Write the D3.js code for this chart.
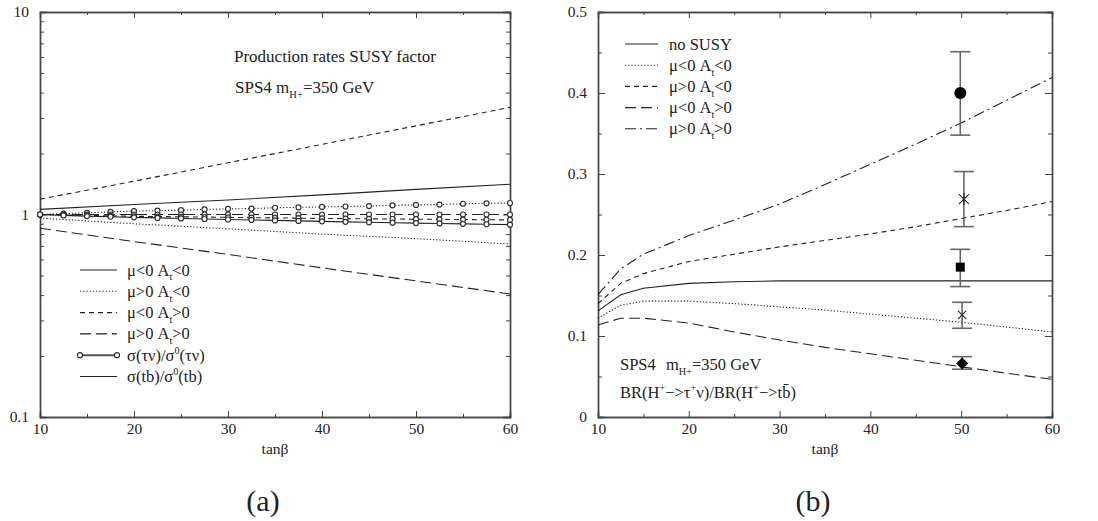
<!DOCTYPE html>
<html>
<head>
<meta charset="UTF-8">
<script src="https://d3js.org/d3.v7.min.js"></script>
<style>
  body { margin: 0; background: #fff; }
  .axis path, .axis line { stroke: #444; }
</style>
</head>
<body>
<svg width="1098" height="521"></svg>
<script>
// ---- panel (a): production rate SUSY factors ----
const tanbA = [10, 20, 30, 40, 50, 60];
const tbMuNegAtNeg = [1.06, 1.12, 1.18, 1.25, 1.33, 1.41];     // solid
const tbMuPosAtNeg = [0.96, 0.90, 0.85, 0.80, 0.76, 0.715];    // dotted
const tbMuNegAtPos = [1.19, 1.46, 1.80, 2.22, 2.74, 3.38];     // short dash
const tbMuPosAtPos = [0.855, 0.735, 0.635, 0.545, 0.47, 0.405]; // long dash

const tanbTau = [10, 12.5, 15, 17.5, 20, 22.5, 25, 27.5, 30, 32.5, 35, 37.5, 40, 42.5, 45, 47.5, 50, 52.5, 55, 57.5, 60];
const tauSolid  = [1.0, 0.99, 0.982, 0.975, 0.968, 0.962, 0.956, 0.95, 0.945, 0.94, 0.935, 0.93, 0.925, 0.92, 0.915, 0.911, 0.907, 0.903, 0.899, 0.895, 0.891];
const tauDotted = [1.0, 1.01, 1.02, 1.03, 1.04, 1.045, 1.05, 1.06, 1.065, 1.07, 1.08, 1.085, 1.09, 1.095, 1.10, 1.11, 1.115, 1.12, 1.13, 1.135, 1.14];
const tauShort  = [1.0, 0.995, 0.99, 0.985, 0.98, 0.977, 0.974, 0.971, 0.968, 0.965, 0.962, 0.959, 0.956, 0.954, 0.952, 0.95, 0.948, 0.946, 0.944, 0.942, 0.94];
const tauLong   = [1.0, 1.0, 1.0, 1.0, 1.0, 1.0, 1.0, 1.0, 1.0, 1.0, 1.0, 1.0, 1.0, 1.0, 1.0, 1.0, 1.0, 1.0, 1.0, 1.0, 1.0];

// ---- panel (b): BR ratio ----
const tanbB = [10, 12.5, 15, 20, 25, 30, 35, 40, 45, 50, 55, 60];
const brNoSusy      = [0.131, 0.151, 0.159, 0.165, 0.167, 0.168, 0.168, 0.168, 0.168, 0.168, 0.168, 0.168];
const brMuNegAtNeg  = [0.122, 0.138, 0.143, 0.143, 0.140, 0.136, 0.132, 0.127, 0.122, 0.117, 0.111, 0.105];
const brMuPosAtNeg  = [0.140, 0.165, 0.177, 0.192, 0.201, 0.210, 0.218, 0.226, 0.235, 0.245, 0.255, 0.266];
const brMuNegAtPos  = [0.1136, 0.122, 0.122, 0.116, 0.105, 0.095, 0.086, 0.078, 0.070, 0.062, 0.054, 0.0465];
const brMuPosAtPos  = [0.151, 0.183, 0.201, 0.224, 0.243, 0.263, 0.287, 0.312, 0.337, 0.363, 0.391, 0.419];

// measured points at tanb = 50
const ptX     = [49.9, 50.3, 49.9, 50.1, 50.1];
const ptY     = [0.400, 0.269, 0.185, 0.126, 0.066];
const ptLow   = [0.348, 0.235, 0.161, 0.1095, 0.059];
const ptHigh  = [0.451, 0.303, 0.207, 0.1416, 0.0745];
const ptShape = ["circle", "asterisk", "square", "cross", "diamond"];

const dashes = { solid: null, dotted: "1.2,2", short: "5,4", long: "11,5", dashdot: "11,4,2,4" };
const SERIF = "'Liberation Serif', 'Times New Roman', serif";

const svg = d3.select("svg");

function rich(g, x, y, parts, size) {
  const t = g.append("text").attr("x", x).attr("y", y)
    .attr("font-family", SERIF).attr("font-size", size).attr("fill", "#222");
  let shift = 0;
  parts.forEach(p => {
    const txt = typeof p === "string" ? p : p[0];
    const kind = typeof p === "string" ? "" : p[1];
    const want = kind === "sub" ? size * 0.3 : kind === "sup" ? -size * 0.4 : 0;
    t.append("tspan").attr("dy", want - shift)
      .attr("font-size", kind ? size * 0.62 : size).text(txt);
    shift = want;
  });
  return t;
}

function frame(g, x, y, W, H, xMaj, xMin, yMaj, yMin, yFmt) {
  const ax = (sel) => sel.attr("class", "axis");
  g.append("g").call(ax).attr("transform", `translate(0,${H})`)
    .call(d3.axisBottom(x).tickValues(xMaj).tickSize(-6).tickPadding(6).tickFormat(d3.format("d")));
  g.append("g").call(ax).attr("transform", `translate(0,${H})`)
    .call(d3.axisBottom(x).tickValues(xMin).tickSize(-3).tickFormat(""));
  g.append("g").call(ax)
    .call(d3.axisTop(x).tickValues(xMaj).tickSize(-6).tickFormat(""));
  g.append("g").call(ax)
    .call(d3.axisTop(x).tickValues(xMin).tickSize(-3).tickFormat(""));
  g.append("g").call(ax)
    .call(d3.axisLeft(y).tickValues(yMaj).tickSize(-7).tickPadding(11).tickFormat(yFmt));
  g.append("g").call(ax)
    .call(d3.axisLeft(y).tickValues(yMin).tickSize(-4).tickFormat(""));
  g.append("g").call(ax).attr("transform", `translate(${W},0)`)
    .call(d3.axisRight(y).tickValues(yMaj).tickSize(-7).tickFormat(""));
  g.append("g").call(ax).attr("transform", `translate(${W},0)`)
    .call(d3.axisRight(y).tickValues(yMin).tickSize(-4).tickFormat(""));
  g.selectAll(".axis path.domain").attr("stroke-width", 1.4);
  g.selectAll(".axis text").attr("font-family", SERIF).attr("font-size", 15.5).attr("fill", "#222");
  g.append("text").attr("x", W / 2).attr("y", H + 37).attr("text-anchor", "middle")
    .attr("font-family", SERIF).attr("font-size", 15.5).attr("fill", "#222").text("tanβ");
}

function curve(g, x, y, xs, ys, style) {
  g.append("path")
    .datum(xs.map((d, i) => [d, ys[i]]))
    .attr("fill", "none").attr("stroke", "#222").attr("stroke-width", 1.1)
    .attr("stroke-dasharray", dashes[style])
    .attr("d", d3.line().x(d => x(d[0])).y(d => y(d[1])));
}

// ================= panel (a) =================
const aL = 40, aR = 510, plotTop = 12, plotBot = 417;
const gA = svg.append("g").attr("transform", `translate(${aL},${plotTop})`);
const WA = aR - aL, H = plotBot - plotTop;
const xA = d3.scaleLinear().domain([10, 60]).range([0, WA]);
const yA = d3.scaleLog().domain([0.1, 10]).range([H, 0]);
const logMinor = [0.2, 0.3, 0.4, 0.5, 0.6, 0.7, 0.8, 0.9, 2, 3, 4, 5, 6, 7, 8, 9];
frame(gA, xA, yA, WA, H, [10, 20, 30, 40, 50, 60], [15, 25, 35, 45, 55],
  [0.1, 1, 10], logMinor, d => (d === 0.1 ? "0.1" : d3.format("d")(d)));

curve(gA, xA, yA, tanbA, tbMuNegAtNeg, "solid");
curve(gA, xA, yA, tanbA, tbMuPosAtNeg, "dotted");
curve(gA, xA, yA, tanbA, tbMuNegAtPos, "short");
curve(gA, xA, yA, tanbA, tbMuPosAtPos, "long");

[[tauDotted, "dotted"], [tauLong, "long"], [tauShort, "short"], [tauSolid, "solid"]].forEach(([vals, st]) => {
  curve(gA, xA, yA, tanbTau, vals, st);
  gA.append("g").selectAll("circle").data(tanbTau.map((d, i) => [d, vals[i]])).enter()
    .append("circle").attr("cx", d => xA(d[0])).attr("cy", d => yA(d[1])).attr("r", 2.5)
    .attr("fill", "#fff").attr("stroke", "#333").attr("stroke-width", 1.2);
});

rich(gA, 194, 50, ["Production rates SUSY factor"], 17);
rich(gA, 195, 81, ["SPS4 m", ["H+", "sub"], "=350 GeV"], 17);

const legA = [
  { st: "solid", parts: ["μ<0 A", ["t", "sub"], "<0"] },
  { st: "dotted", parts: ["μ>0 A", ["t", "sub"], "<0"] },
  { st: "short", parts: ["μ<0 A", ["t", "sub"], ">0"] },
  { st: "long", parts: ["μ>0 A", ["t", "sub"], ">0"] },
  { st: "tau", parts: ["σ(τν)/σ", ["0", "sup"], "(τν)"] },
  { st: "solid", parts: ["σ(tb)/σ", ["0", "sup"], "(tb)"] }
];
legA.forEach((d, i) => {
  const yy = 258 + i * 21.3;
  if (d.st === "tau") {
    gA.append("line").attr("x1", 40).attr("x2", 77).attr("y1", yy).attr("y2", yy)
      .attr("stroke", "#555").attr("stroke-width", 2);
    [40, 77].forEach(cx => gA.append("circle").attr("cx", cx).attr("cy", yy).attr("r", 2.5)
      .attr("fill", "#fff").attr("stroke", "#333").attr("stroke-width", 1.2));
  } else {
    gA.append("line").attr("x1", 40).attr("x2", 77).attr("y1", yy).attr("y2", yy)
      .attr("stroke", "#222").attr("stroke-width", 1.1).attr("stroke-dasharray", dashes[d.st]);
  }
  rich(gA, 87, yy + 5.5, d.parts, 16.5);
});

// ================= panel (b) =================
const bL = 598, bR = 1052;
const gB = svg.append("g").attr("transform", `translate(${bL},${plotTop})`);
const WB = bR - bL;
const xB = d3.scaleLinear().domain([10, 60]).range([0, WB]);
const yB = d3.scaleLinear().domain([0, 0.5]).range([H, 0]);
frame(gB, xB, yB, WB, H, [10, 20, 30, 40, 50, 60], [15, 25, 35, 45, 55],
  [0, 0.1, 0.2, 0.3, 0.4, 0.5], [0.05, 0.15, 0.25, 0.35, 0.45], d => (d === 0 ? "0" : d3.format(".1f")(d)));

curve(gB, xB, yB, tanbB, brNoSusy, "solid");
curve(gB, xB, yB, tanbB, brMuNegAtNeg, "dotted");
curve(gB, xB, yB, tanbB, brMuPosAtNeg, "short");
curve(gB, xB, yB, tanbB, brMuNegAtPos, "long");
curve(gB, xB, yB, tanbB, brMuPosAtPos, "dashdot");

ptX.forEach((px, i) => {
  const cx = xB(px);
  const eb = gB.append("g").attr("stroke", "#666").attr("stroke-width", 1.6);
  eb.append("line").attr("x1", cx).attr("x2", cx).attr("y1", yB(ptLow[i])).attr("y2", yB(ptHigh[i]));
  [ptLow[i], ptHigh[i]].forEach(v => eb.append("line")
    .attr("x1", cx - 10).attr("x2", cx + 10).attr("y1", yB(v)).attr("y2", yB(v)));
  const cy = yB(ptY[i]);
  const s = ptShape[i];
  if (s === "circle") {
    gB.append("circle").attr("cx", cx).attr("cy", cy).attr("r", 6).attr("fill", "#000");
  } else if (s === "square") {
    gB.append("rect").attr("x", cx - 4.5).attr("y", cy - 4.5).attr("width", 9).attr("height", 9).attr("fill", "#000");
  } else if (s === "diamond") {
    gB.append("path").attr("d", `M${cx},${cy - 6}L${cx + 6},${cy}L${cx},${cy + 6}L${cx - 6},${cy}Z`).attr("fill", "#000");
  } else if (s === "cross") {
    gB.append("path").attr("d", `M${cx - 4},${cy - 4}L${cx + 4},${cy + 4}M${cx - 4},${cy + 4}L${cx + 4},${cy - 4}`)
      .attr("stroke", "#222").attr("stroke-width", 1.1);
  } else {
    gB.append("path").attr("d", `M${cx - 5},${cy - 5}L${cx + 5},${cy + 5}M${cx - 5},${cy + 5}L${cx + 5},${cy - 5}M${cx},${cy - 6}L${cx},${cy + 6}`)
      .attr("stroke", "#222").attr("stroke-width", 1.1);
  }
});

const legB = [
  { st: "solid", parts: ["no SUSY"] },
  { st: "dotted", parts: ["μ<0 A", ["t", "sub"], "<0"] },
  { st: "short", parts: ["μ>0 A", ["t", "sub"], "<0"] },
  { st: "long", parts: ["μ<0 A", ["t", "sub"], ">0"] },
  { st: "dashdot", parts: ["μ>0 A", ["t", "sub"], ">0"] }
];
legB.forEach((d, i) => {
  const yy = 32 + i * 21.2;
  gB.append("line").attr("x1", 27).attr("x2", 60).attr("y1", yy).attr("y2", yy)
    .attr("stroke", "#222").attr("stroke-width", 1.1).attr("stroke-dasharray", dashes[d.st]);
  rich(gB, 71, yy + 5.5, d.parts, 16.5);
});

rich(gB, 22, 358, ["SPS4"], 16.5);
rich(gB, 68, 358, ["m", ["H+", "sub"], "=350 GeV"], 16.5);
rich(gB, 22, 386, ["BR(H", ["+", "sup"], "−>τ", ["+", "sup"], "ν)/BR(H", ["+", "sup"], "−>tb\u0304)"], 16.5);

// panel captions
svg.append("text").attr("x", 263).attr("y", 511).attr("text-anchor", "middle")
  .attr("font-family", SERIF).attr("font-size", 30).attr("fill", "#222").text("(a)");
svg.append("text").attr("x", 813).attr("y", 511).attr("text-anchor", "middle")
  .attr("font-family", SERIF).attr("font-size", 30).attr("fill", "#222").text("(b)");
</script>
</body>
</html>
